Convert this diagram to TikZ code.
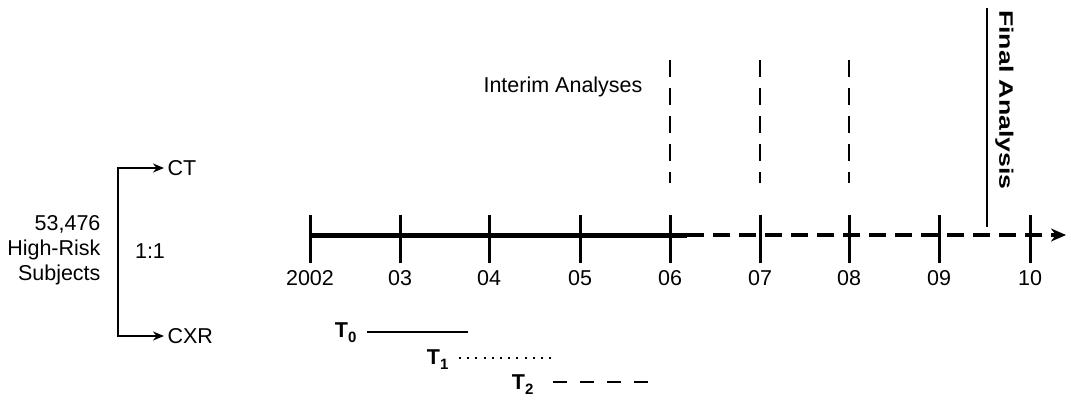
\documentclass[tikz,border=0pt]{standalone}
\usepackage{fontspec}
\setmainfont{Liberation Sans}
\usetikzlibrary{positioning, arrows.meta}

\newcommand{\tsub}[1]{\raisebox{-5pt}{\fontsize{15}{15}\selectfont#1}}

\begin{document}
\begin{tikzpicture}[
  x=1pt, y=-1pt,
  font=\fontsize{21.5}{25}\selectfont,
  tick/.style={line width=3pt},
  done/.style={line width=5pt},
  todo/.style={line width=3.2pt, dash pattern=on 17pt off 9pt, -{Stealth[length=15pt, width=13pt]}},
  interim/.style={line width=2.4pt, dash pattern=on 17pt off 11pt},
  branch/.style={line width=2pt, {Stealth[length=11pt, width=9pt]}-{Stealth[length=11pt, width=9pt]}},
  tlab/.style={font=\fontsize{21.5}{25}\selectfont\bfseries, anchor=east},
  period/.style={line width=2pt}
]
\useasboundingbox (0,0) rectangle (1071,407);

% --- Randomisierung ---
\node[align=right, anchor=east] (subj) at (104,250) {53,476\\High-Risk\\Subjects};
\node[anchor=west] (ct) at (164,168) {CT};
\node[anchor=west] (cxr) at (164,336) {CXR};
\node (ratio) at (150,251) {1:1};
\coordinate (brtop) at (118,168);
\coordinate (brbot) at (118,336);
\draw[branch] (ct.west) -- (brtop) -- (brbot) -- (cxr.west);

% --- Zeitachse ---
\foreach \x/\yr [count=\i from 0] in {310/2002, 400/03, 489/04, 580/05, 670/06, 760/07, 849/08, 939/09, 1030/10} {
  \coordinate (k\i) at (\x,235);
  \draw[tick] (\x,215) -- (\x,263);
  \node (yr\i) at (\x,278) {\yr};
}
\coordinate (split) at (687,235);
\coordinate (tip) at (1066,235);
\draw[done] (k0) -- (split);
\draw[todo] (split) -- (tip);

% --- Zwischenauswertungen ---
\foreach \i in {4,5,6} {
  \coordinate (ia\i) at ([yshift=175pt]k\i);
  \coordinate (ib\i) at ([yshift=52pt]k\i);
  \draw[interim] (ia\i) -- (ib\i);
}
\node[anchor=east] (interimlab) at (646,87) {Interim Analyses};

% --- Endauswertung ---
\coordinate (fa) at (987,8);
\coordinate (fb) at (987,227);
\draw[line width=2.4pt] (fa) -- (fb);
\node[rotate=-90, anchor=south west, inner sep=0pt, font=\fontsize{19.5}{22}\selectfont\bfseries]
  (final) at (995,10) {\scalebox{1.37}[1]{Final Analysis}};

% --- Zeitfenster ---
\node[tlab] (T0) at (360,333) {T\tsub{0}};
\node[tlab] (T1) at (452,360) {T\tsub{1}};
\node[tlab] (T2) at (537,385) {T\tsub{2}};
\coordinate (p0a) at (367,332);  \coordinate (p0b) at (468,332);
\coordinate (p1a) at (459,358);  \coordinate (p1b) at (551,358);
\coordinate (p2a) at (553,382);  \coordinate (p2b) at (649,382);
\draw[period] (p0a) -- (p0b);
\draw[period, dash pattern=on 2pt off 6.2pt] (p1a) -- (p1b);
\draw[period, dash pattern=on 14pt off 13pt] (p2a) -- (p2b);

\end{tikzpicture}
\end{document}
